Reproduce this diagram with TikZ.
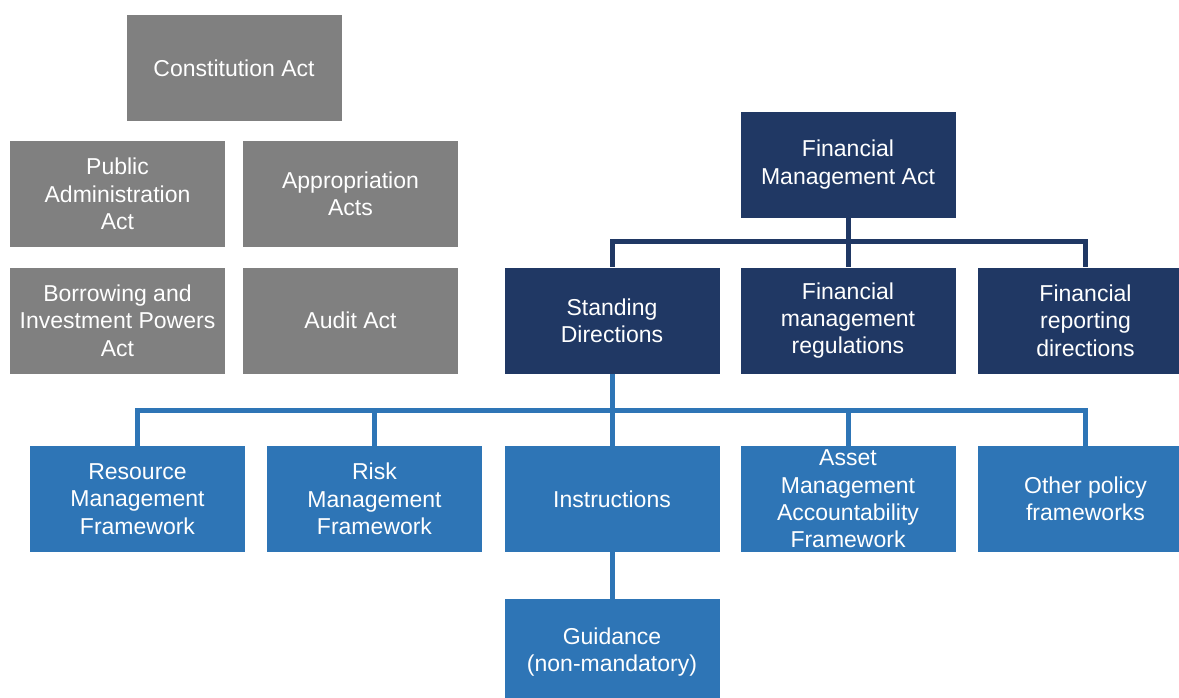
\documentclass[tikz,border=0pt]{standalone}
\usepackage{fontspec}
\setmainfont{Liberation Sans}
\usetikzlibrary{positioning}
\usetikzlibrary{calc}
\definecolor{actgray}{HTML}{808080}
\definecolor{fmanavy}{HTML}{203864}
\definecolor{frameblue}{HTML}{2E75B6}
\tikzset{
  box/.style={rectangle, minimum width=215pt, minimum height=106pt, inner sep=0pt, align=center, text=white, font=\fontsize{23}{27.3}\selectfont},
  act/.style={box, fill=actgray},
  fmabox/.style={box, fill=fmanavy},
  framebox/.style={box, fill=frameblue},
  navylink/.style={draw=fmanavy, line width=5pt},
  bluelink/.style={draw=frameblue, line width=5pt}
}
\begin{document}
\begin{tikzpicture}[x=1pt, y=-1pt]
    \useasboundingbox (0, 0) rectangle (1179, 697);
    % other acts
    \node[act] (const) at (234, 68) {Constitution Act};
    \node[act] (pub) at (117.5, 194) {Public\\Administration\\Act};
    \node[act] (appr) at (350.5, 194) {Appropriation\\Acts};
    \node[act] (borr) at (117.5, 320.5) {Borrowing and\\Investment Powers\\Act};
    \node[act] (audit) at (350.5, 320.5) {Audit Act};
    % financial management act and below
    \node[fmabox] (fma) at (848, 164.5) {Financial\\Management Act};
    \node[fmabox] (sd) at (612, 320.5) {Standing\\Directions};
    \node[fmabox] (fmr) at (848, 320.5) {Financial\\management\\regulations};
    \node[fmabox] (frd) at (1085.5, 320.5) {Financial\\reporting\\directions};
    \node[framebox] (rmf) at (137.5, 499) {Resource\\Management\\Framework};
    \node[framebox] (rsk) at (374.5, 499) {Risk\\Management\\Framework};
    \node[framebox] (ins) at (612, 499) {Instructions};
    \node[framebox] (amaf) at (848, 499) {Asset\\Management\\Accountability\\Framework};
    \node[framebox] (oth) at (1085.5, 499) {Other policy\\frameworks};
    \node[framebox] (gd) at (612, 652) {Guidance\\(non-mandatory)};
    % connectors
    \coordinate (fmabus) at (848, 241);
    \coordinate (sdbus) at (612, 410);
    \path[navylink] (fma.south) -- (fmabus);
    \foreach \n in {sd, fmr, frd} {\path[navylink] (fmabus) -| (\n.north);}
    \path[bluelink] (sd.south) -- (sdbus);
    \foreach \n in {rmf, rsk, ins, amaf, oth} {\path[bluelink] (sdbus) -| (\n.north);}
    \path[bluelink] (ins.south) -- (gd.north);
  \end{tikzpicture}
\end{document}
